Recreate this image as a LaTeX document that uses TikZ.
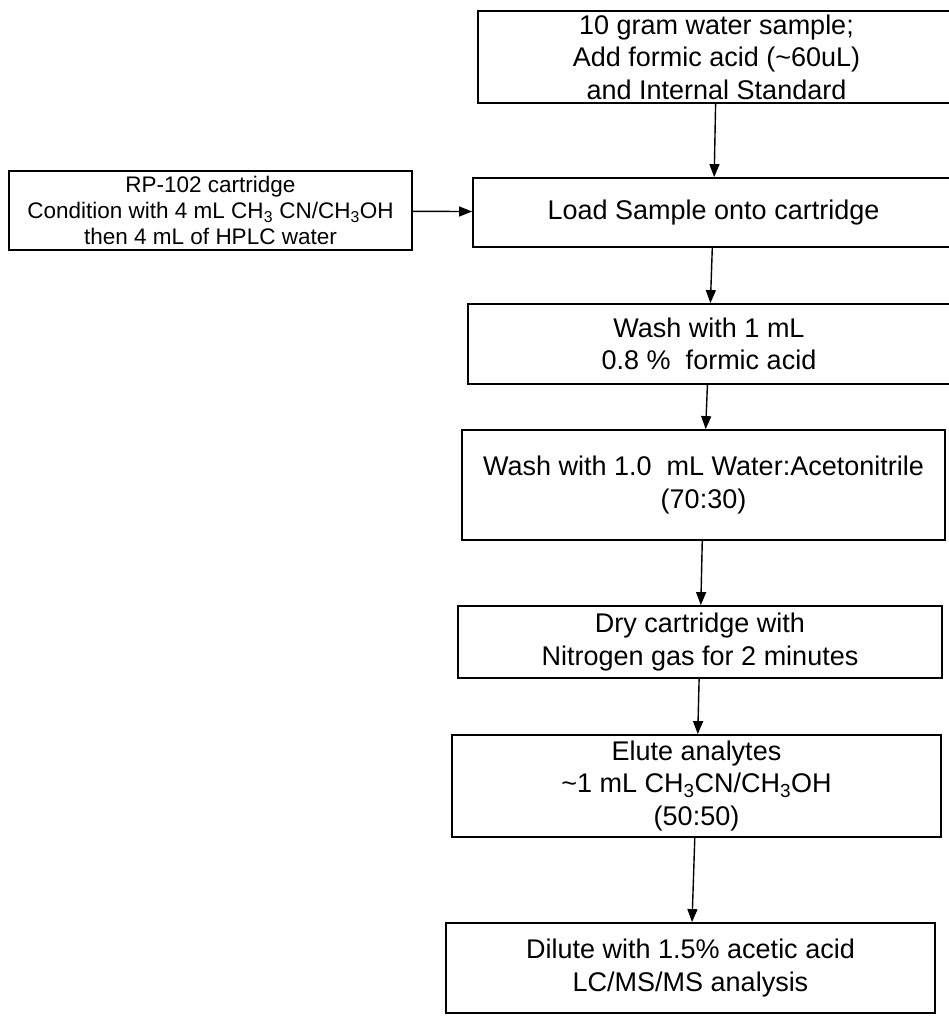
\documentclass[tikz,border=0pt]{standalone}
\usepackage{fontspec}
\setmainfont{Liberation Sans}
\usetikzlibrary{arrows.meta}
\begin{document}
\begin{tikzpicture}[x=1pt,y=-1pt,
  box/.style={draw, line width=1.8pt, align=center, inner sep=0pt,
    font=\fontsize{27}{32.5}\selectfont},
  smallbox/.style={box, font=\fontsize{22.5}{26}\selectfont},
  arr/.style={line width=1.4pt, -{Triangle[length=13pt,width=10pt]}}]
\useasboundingbox (0,0) rectangle (948,1016);
\node[box, minimum width=477pt, minimum height=92pt] (s1) at (716.5,57)
  {10 gram water sample;\\Add formic acid (\textasciitilde60uL)\\and Internal Standard};
\node[smallbox, minimum width=403pt, minimum height=79pt] (rp) at (210.5,210.5)
  {RP-102 cartridge\\Condition with 4 mL CH\textsubscript{3} CN/CH\textsubscript{3}OH\\then 4 mL of HPLC water};
\node[box, minimum width=481pt, minimum height=69pt] (load) at (713.5,212.5)
  {Load Sample onto cartridge};
\node[box, minimum width=482pt, minimum height=80pt] (w1) at (709,344)
  {Wash with 1 mL\\0.8 \%\ \ formic acid};
\node[box, minimum width=483pt, minimum height=110pt] (w2) at (703.5,485)
  {Wash with 1.0\ \ mL Water:Acetonitrile\\(70:30)};
\node[box, minimum width=484pt, minimum height=72pt] (dry) at (700,642)
  {Dry cartridge with\\Nitrogen gas for 2 minutes};
\node[box, minimum width=489pt, minimum height=102pt] (el) at (696.5,786)
  {Elute analytes\\\textasciitilde1 mL CH\textsubscript{3}CN/CH\textsubscript{3}OH\\(50:50)};
\node[box, minimum width=489pt, minimum height=90pt] (dil) at (690.5,968)
  {Dilute with 1.5\% acetic acid\\LC/MS/MS analysis};
\draw[arr] (s1) -- (load);
\draw[arr] (rp) -- (load);
\draw[arr] (load) -- (w1);
\draw[arr] (w1) -- (w2);
\draw[arr] (w2) -- (dry);
\draw[arr] (dry) -- (el);
\draw[arr] (el) -- (dil);
\end{tikzpicture}
\end{document}
